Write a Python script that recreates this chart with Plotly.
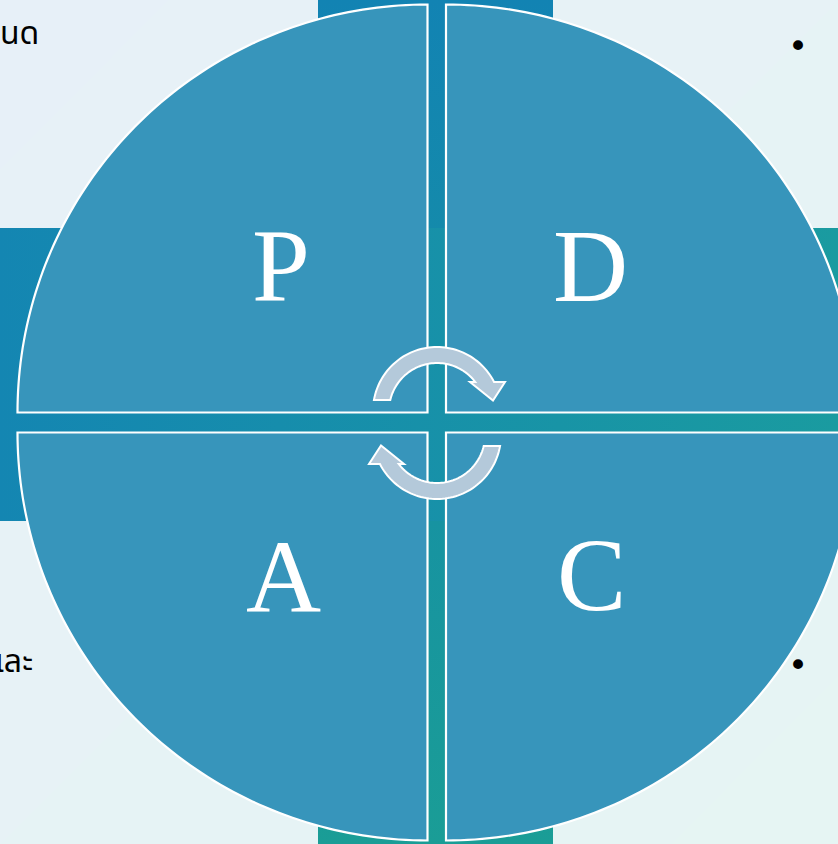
import numpy as np
import plotly.graph_objects as go

W, H = 838, 844

# ---- content -------------------------------------------------------------
quadrant_labels = ["P", "D", "A", "C"]
side_texts = ["กำหนด", "และ"]
bullets = ["•", "•"]

# ---- layout geometry (pixels, y down) ------------------------------------
label_pos = [(281, 265), (590, 265), (283, 576), (591, 574)]
side_pos = [(41, 34), (35, 662)]
bullet_pos = [(798, 46), (798, 665)]

v_bar = (318, 553)          # x extent of vertical band
h_bar = (228, 521)          # y extent of horizontal band
corner_x = (427.5, 446.0)   # left / right quadrant corner x
corner_y = (412.5, 432.5)   # top / bottom quadrant corner y
RX, RY = 410, 408

QUAD_FILL = "#3795BB"
ARROW_FILL = "#B4C9DA"

fig = go.Figure()

# background gradient
fig.add_trace(go.Heatmap(
    x=[0, W], y=[0, H], z=[[0, 0.5], [0.5, 1]], zsmooth="best",
    colorscale=[[0, "#E7F0F8"], [1, "#E6F5F3"]], showscale=False,
    hoverinfo="skip"))

# cross bands behind the circle
fig.add_trace(go.Scatter(
    x=[v_bar[0], v_bar[1], v_bar[1], v_bar[0], v_bar[0]],
    y=[0, 0, H, H, 0], mode="none", fill="toself",
    fillgradient=dict(type="vertical",
                      colorscale=[[0, "#1A9D96"], [1, "#1283B3"]]),
    hoverinfo="skip"))
fig.add_trace(go.Scatter(
    x=[0, W, W, 0, 0],
    y=[h_bar[0], h_bar[0], h_bar[1], h_bar[1], h_bar[0]], mode="none",
    fill="toself",
    fillgradient=dict(type="horizontal",
                      colorscale=[[0, "#1486B2"], [1, "#1A9BA0"]]),
    hoverinfo="skip"))


def path_from(points):
    s = "M " + " L ".join(f"{x:.2f},{y:.2f}" for x, y in points)
    return s + " Z"


# quadrants
t = np.linspace(0, np.pi / 2, 90)
quads = [
    (corner_x[0], corner_y[0], -1, -1),
    (corner_x[1], corner_y[0], 1, -1),
    (corner_x[0], corner_y[1], -1, 1),
    (corner_x[1], corner_y[1], 1, 1),
]
for cx, cy, sx, sy in quads:
    pts = [(cx, cy)]
    pts += [(cx + sx * RX * np.cos(a), cy + sy * RY * np.sin(a)) for a in t]
    fig.add_shape(type="path", path=path_from(pts), fillcolor=QUAD_FILL,
                  line=dict(color="white", width=2.2), layer="above")

# circular arrows
acx, acy = 437.0, 411.0
r_out, r_in = 64.0, 48.0
y_start, y_end = 400.0, 382.0


def arc(r, y_a, y_b, left_to_right=True, n=60):
    # arc over the top from y_a on the left side to y_b on the right side
    a0 = np.pi - np.arcsin((acy - y_a) / r)
    a1 = np.arcsin((acy - y_b) / r)
    angs = np.linspace(a0, a1, n) if left_to_right else np.linspace(a1, a0, n)
    return [(acx + r * np.cos(a), acy - r * np.sin(a)) for a in angs]


top_arrow = arc(r_out, y_start, y_end, True)
top_arrow += [(505, y_end), (493, 400.5), (470, y_end)]
top_arrow += arc(r_in, y_start, y_end, False)

pcx, pcy = 437.0, 423.0
bottom_arrow = [(2 * pcx - x, 2 * pcy - y) for x, y in top_arrow]

for pts in (top_arrow, bottom_arrow):
    fig.add_shape(type="path", path=path_from(pts), fillcolor=ARROW_FILL,
                  line=dict(color="white", width=2), layer="above")

# letters
for lab, (x, y) in zip(quadrant_labels, label_pos):
    fig.add_annotation(x=x, y=y, text=lab, showarrow=False,
                       font=dict(family="Liberation Serif", size=104,
                                 color="white"),
                       xanchor="center", yanchor="middle")

# cut-off side text
for txt, (x, y) in zip(side_texts, side_pos):
    fig.add_annotation(x=x, y=y, text=txt, showarrow=False,
                       font=dict(family="Noto Sans Thai, Noto Sans, DejaVu Sans",
                                 size=32, color="black"),
                       xanchor="right", yanchor="middle")

for b, (x, y) in zip(bullets, bullet_pos):
    fig.add_annotation(x=x, y=y, text=b, showarrow=False,
                       font=dict(family="DejaVu Sans", size=34, color="black"),
                       xanchor="center", yanchor="middle")

fig.update_layout(
    width=W, height=H, margin=dict(l=0, r=0, t=0, b=0),
    paper_bgcolor="#E6F2F6", plot_bgcolor="#E6F2F6", showlegend=False,
    xaxis=dict(range=[0, W], visible=False, fixedrange=True),
    yaxis=dict(range=[H, 0], visible=False, fixedrange=True),
)

fig.write_html(
    "out.html",
    config={"displayModeBar": False},
    post_script="document.body.style.margin='0';document.body.style.overflow='hidden';",
)
